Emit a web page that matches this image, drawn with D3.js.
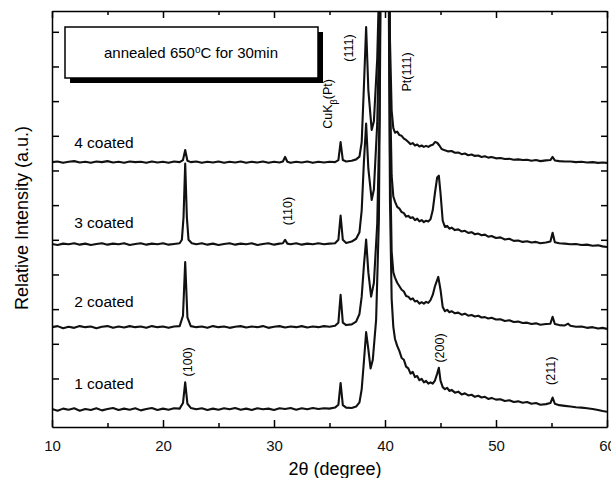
<!DOCTYPE html>
<html lang="en">
  <head>
    <meta charset="utf-8">
    <title>XRD annealed 650C</title>
    <script src="https://cdnjs.cloudflare.com/ajax/libs/d3/7.8.5/d3.min.js"></script>
    <style>
      body { margin: 0; background: #fff; }
      * { font-family: "Liberation Sans", Arial, sans-serif; }
      .axis path, .axis line { stroke: #000; stroke-width: 1.5px; }
      .axis text { font-size: 15px; fill: #111; }
      .trace { fill: none; stroke: #111; stroke-width: 2.1px; stroke-linejoin: round; }
    </style>
  </head>
  <body>
    <div id="vis"></div>
<script>
    // data: [2theta, relative intensity above each trace's own baseline]
    var coat1 = [[10,0.03],[10.5,-0.02],[11,0.04],[11.5,0.01],[12,0.05],[12.5,-0.02],[13,0.03],[13.5,0.0],[14,0.05],[14.5,-0.01],[15,0.03],[15.5,0.06],[16,0.0],[16.5,0.04],[17,0.01],[17.5,0.05],[18,-0.01],[18.5,0.03],[19,0.06],[19.5,0.0],[20,0.04],[20.5,0.01],[21,0.05],[21.5,0.04],[21.8,0.2],[22,0.8],[22.2,0.18],[22.5,0.06],[23,0.02],[23.5,0.05],[24,0.0],[24.5,0.04],[25,0.01],[25.5,0.05],[26,0.02],[26.5,0.06],[27,0.01],[27.5,0.04],[28,0.0],[28.5,0.05],[29,0.02],[29.5,0.04],[30,0.0],[30.5,0.05],[31,0.03],[31.5,0.06],[32,0.01],[32.5,0.05],[33,0.02],[33.5,0.06],[34,0.03],[34.5,0.05],[35,0.04],[35.5,0.07],[35.8,0.15],[36,0.78],[36.2,0.14],[36.5,0.07],[37,0.06],[37.4,0.1],[37.7,0.22],[37.9,0.6],[38.1,1.4],[38.3,2.25],[38.5,1.75],[38.7,1.2],[38.9,1.45],[39.2,2.6],[39.45,5.5],[39.65,14],[40.3,14],[40.45,6],[40.6,3.2],[40.75,2.4],[40.9,2.05],[41.1,1.85],[41.3,1.7],[41.5,1.5],[41.7,1.45],[41.9,1.25],[42.1,1.2],[42.3,1.05],[42.5,1.1],[42.7,0.95],[42.9,0.98],[43.1,0.86],[43.3,0.9],[43.5,0.8],[43.7,0.84],[43.9,0.76],[44.1,0.8],[44.3,0.76],[44.5,0.85],[44.7,1.05],[44.85,1.22],[45,0.85],[45.2,0.66],[45.4,0.6],[45.6,0.64],[45.8,0.55],[46,0.58],[46.3,0.5],[46.6,0.53],[46.9,0.45],[47.2,0.48],[47.5,0.42],[47.8,0.44],[48.1,0.38],[48.4,0.41],[48.7,0.36],[49,0.38],[49.3,0.32],[49.6,0.35],[50,0.3],[50.4,0.31],[50.8,0.26],[51.2,0.28],[51.6,0.23],[52,0.25],[52.4,0.21],[52.8,0.23],[53.2,0.18],[53.6,0.2],[54,0.15],[54.5,0.17],[54.9,0.2],[55.1,0.36],[55.3,0.18],[55.7,0.14],[56.2,0.12],[56.7,0.1],[57.2,0.08],[57.7,0.07],[58.2,0.05],[58.7,0.03],[59.2,0.0],[59.6,-0.03],[60,-0.05]];

    var coat2 = [[10,0.02],[10.5,0.05],[11,-0.01],[11.5,0.03],[12,0.0],[12.5,0.05],[13,0.02],[13.5,0.04],[14,-0.01],[14.5,0.03],[15,0.05],[15.5,0.0],[16,0.04],[16.5,0.01],[17,0.05],[17.5,0.02],[18,0.04],[18.5,0.0],[19,0.05],[19.5,0.02],[20,0.04],[20.5,0.0],[21,0.04],[21.5,0.05],[21.8,0.35],[22,1.9],[22.2,0.3],[22.5,0.05],[23,0.02],[23.5,0.04],[24,0.0],[24.5,0.05],[25,0.02],[25.5,0.04],[26,0.0],[26.5,0.03],[27,0.05],[27.5,0.01],[28,0.04],[28.5,0.02],[29,0.05],[29.5,0.0],[30,0.03],[30.5,0.05],[31,0.01],[31.5,0.04],[32,0.02],[32.5,0.05],[33,0.01],[33.5,0.04],[34,0.02],[34.5,0.05],[35,0.03],[35.5,0.06],[35.8,0.15],[36,0.95],[36.2,0.15],[36.5,0.08],[37,0.1],[37.4,0.18],[37.7,0.4],[37.9,0.9],[38.1,1.8],[38.3,2.55],[38.5,1.6],[38.75,0.9],[39,1.3],[39.3,3],[39.5,6],[39.65,14],[40.3,14],[40.45,5],[40.6,2.2],[40.75,1.6],[40.9,1.45],[41.1,1.3],[41.3,1.2],[41.5,1.1],[41.7,1.05],[41.9,0.92],[42.1,0.9],[42.3,0.82],[42.5,0.85],[42.7,0.76],[42.9,0.78],[43.1,0.7],[43.3,0.74],[43.5,0.7],[43.7,0.75],[43.9,0.72],[44.1,0.8],[44.3,0.95],[44.5,1.2],[44.8,1.47],[45,1.1],[45.2,0.6],[45.4,0.48],[45.6,0.52],[45.8,0.45],[46,0.48],[46.3,0.42],[46.6,0.44],[46.9,0.38],[47.2,0.41],[47.5,0.35],[47.8,0.37],[48.1,0.33],[48.4,0.35],[48.7,0.3],[49,0.31],[49.3,0.27],[49.6,0.29],[50,0.24],[50.4,0.25],[50.8,0.2],[51.2,0.22],[51.6,0.17],[52,0.18],[52.4,0.14],[52.8,0.15],[53.2,0.11],[53.6,0.13],[54,0.09],[54.5,0.11],[54.9,0.12],[55.1,0.32],[55.3,0.11],[55.7,0.08],[56.2,0.07],[56.5,0.12],[56.7,0.06],[57.2,0.03],[57.7,0.04],[58.2,0.0],[58.7,0.02],[59.2,-0.02],[59.6,0.0],[60,-0.03]];

    var coat3 = [[10,0.03],[10.5,0.0],[11,0.04],[11.5,0.02],[12,0.05],[12.5,0.01],[13,0.04],[13.5,0.0],[14,0.03],[14.5,0.05],[15,0.01],[15.5,0.04],[16,0.02],[16.5,0.05],[17,0.0],[17.5,0.03],[18,0.05],[18.5,0.01],[19,0.04],[19.5,0.02],[20,0.05],[20.5,0.01],[21,0.03],[21.5,0.05],[21.7,0.15],[21.85,0.8],[22,2.35],[22.15,0.8],[22.3,0.15],[22.6,0.05],[23,0.02],[23.5,0.05],[24,0.01],[24.5,0.04],[25,0.0],[25.5,0.03],[26,0.05],[26.5,0.01],[27,0.04],[27.5,0.02],[28,0.05],[28.5,0.0],[29,0.03],[29.5,0.05],[30,0.01],[30.5,0.04],[30.8,0.05],[31,0.15],[31.2,0.04],[31.5,0.02],[32,0.05],[32.5,0.01],[33,0.04],[33.5,0.02],[34,0.05],[34.5,0.02],[35,0.04],[35.5,0.05],[35.8,0.15],[36,0.85],[36.2,0.15],[36.5,0.06],[37,0.1],[37.4,0.18],[37.7,0.37],[37.9,1.0],[38.1,2.4],[38.3,3.5],[38.5,2.2],[38.8,1.3],[39,1.6],[39.3,3.5],[39.5,6.5],[39.65,12],[40.3,12],[40.45,4.5],[40.6,2.0],[40.75,1.4],[40.9,1.25],[41.1,1.1],[41.3,1.05],[41.5,0.95],[41.7,0.92],[41.9,0.82],[42.1,0.84],[42.3,0.78],[42.5,0.8],[42.7,0.72],[42.9,0.76],[43.1,0.68],[43.3,0.72],[43.5,0.66],[43.7,0.7],[43.9,0.68],[44.1,0.74],[44.3,1.0],[44.5,1.5],[44.7,1.95],[44.85,2.0],[45,1.5],[45.2,0.7],[45.4,0.52],[45.6,0.55],[45.8,0.47],[46,0.5],[46.3,0.43],[46.6,0.45],[46.9,0.39],[47.2,0.41],[47.5,0.35],[47.8,0.37],[48.1,0.31],[48.4,0.33],[48.7,0.28],[49,0.3],[49.3,0.24],[49.6,0.26],[50,0.2],[50.4,0.22],[50.8,0.16],[51.2,0.18],[51.6,0.12],[52,0.13],[52.4,0.09],[52.8,0.11],[53.2,0.07],[53.6,0.09],[54,0.05],[54.5,0.07],[54.9,0.1],[55.1,0.35],[55.3,0.08],[55.7,0.05],[56.2,0.04],[56.7,0.02],[57.2,0.03],[57.7,0.0],[58.2,0.01],[58.7,-0.02],[59.2,-0.01],[59.6,-0.04],[60,-0.06]];

    var coat4 = [[10,0.02],[10.5,0.04],[11,0.0],[11.5,0.03],[12,0.05],[12.5,0.01],[13,0.03],[13.5,0.0],[14,0.04],[14.5,0.02],[15,0.05],[15.5,0.01],[16,0.03],[16.5,0.0],[17,0.04],[17.5,0.02],[18,0.03],[18.5,0.0],[19,0.04],[19.5,0.01],[20,0.03],[20.5,0.0],[21,0.04],[21.5,0.02],[21.8,0.08],[22,0.37],[22.2,0.06],[22.5,0.02],[23,0.04],[23.5,0.0],[24,0.03],[24.5,0.01],[25,0.04],[25.5,0.0],[26,0.03],[26.5,0.01],[27,0.04],[27.5,0.0],[28,0.03],[28.5,0.01],[29,0.04],[29.5,0.0],[30,0.03],[30.5,0.01],[30.8,0.04],[31,0.17],[31.2,0.03],[31.5,0.0],[32,0.03],[32.5,0.01],[33,0.04],[33.5,0.0],[34,0.03],[34.5,0.01],[35,0.03],[35.5,0.02],[35.8,0.08],[36,0.6],[36.2,0.08],[36.5,0.04],[37,0.06],[37.4,0.1],[37.7,0.18],[37.9,0.6],[38.1,2.2],[38.3,3.92],[38.5,2.1],[38.8,0.95],[39,1.2],[39.3,3],[39.5,5.5],[39.65,10],[40.3,10],[40.45,3.5],[40.6,1.5],[40.75,1.0],[40.9,0.87],[41.1,0.9],[41.3,0.8],[41.5,0.78],[41.7,0.7],[41.9,0.66],[42.1,0.6],[42.3,0.54],[42.5,0.57],[42.7,0.5],[42.9,0.53],[43.1,0.47],[43.3,0.5],[43.5,0.46],[43.7,0.49],[43.9,0.46],[44.1,0.5],[44.3,0.52],[44.5,0.6],[44.7,0.58],[44.9,0.5],[45.1,0.4],[45.4,0.36],[45.7,0.33],[46,0.34],[46.3,0.29],[46.6,0.3],[46.9,0.25],[47.2,0.27],[47.5,0.22],[47.8,0.24],[48.1,0.2],[48.4,0.21],[48.7,0.17],[49,0.19],[49.3,0.15],[49.6,0.17],[50,0.13],[50.4,0.14],[50.8,0.11],[51.2,0.12],[51.6,0.09],[52,0.1],[52.4,0.08],[52.8,0.09],[53.2,0.06],[53.6,0.08],[54,0.05],[54.5,0.07],[54.9,0.08],[55.1,0.17],[55.3,0.07],[55.7,0.05],[56.2,0.04],[56.7,0.04],[57.2,0.02],[57.7,0.03],[58.2,0.01],[58.7,0.02],[59.2,0.0],[59.6,0.01],[60,0.0]];

    var traces = [coat1, coat2, coat3, coat4];
    var offsets = [-0.91, 1.46, 3.85, 6.22];
    var traceNames = ['1 coated', '2 coated', '3 coated', '4 coated'];
    var nameY = [-0.3, 2.06, 4.34, 6.65];
    var nameX = 12.0;

    // peak annotations (text, 2theta, y centre)
    var peakText = ['(100)', '(110)', 'CuK', '(111)', 'Pt(111)', '(200)', '(211)'];
    var peakX = [22.25, 31.26, 34.86, 36.76, 41.98, 44.95, 54.95];
    var peakY = [0.48, 4.83, 7.92, 9.53, 8.84, 0.88, 0.22];

    var xTicks = [10, 20, 30, 40, 50, 60];
    var xMinor = [15, 25, 35, 45, 55];
    var yTicks = [0, 1, 2, 3, 4, 5, 6, 7, 8, 9, 10];

    var width = 611;
    var height = 478;
    var margin = { top: 11, bottom: 51, left: 52, right: 4 };

    var svg = d3.select('#vis')
        .append('svg')
        .attr('width', width)
        .attr('height', height)
        .append('g')
        .attr('transform', 'translate(' + margin.left + ',' + margin.top + ')');

    width = width - margin.left - margin.right;
    height = height - margin.top - margin.bottom;

    var x_scale = d3.scaleLinear().domain([10, 60]).range([0, width]);
    var y_scale = d3.scaleLinear().domain([-1.4, 10.6]).range([height, 0]);

    svg.append('clipPath').attr('id', 'clip')
        .append('rect').attr('width', width).attr('height', height);

    var line = d3.line()
        .x(function(d) { return x_scale(d[0]); })
        .y(function(d) { return y_scale(d[1] + d.off); });

    var plot = svg.append('g').attr('clip-path', 'url(#clip)');

    traces.forEach(function(t, i) {
        var pts = t.map(function(d) { var p = [d[0], d[1]]; p.off = offsets[i]; return p; });
        plot.append('path')
            .attr('class', 'trace')
            .attr('d', line(pts));
    });

    // axes, ticks inward
    svg.append('g').attr('class', 'axis')
        .attr('transform', 'translate(0,' + height + ')')
        .call(d3.axisBottom(x_scale).tickValues(xTicks).tickSize(-7).tickSizeOuter(0).tickPadding(9));
    svg.append('g').attr('class', 'axis')
        .attr('transform', 'translate(0,' + height + ')')
        .call(d3.axisBottom(x_scale).tickValues(xMinor).tickSize(-4).tickFormat(''))
        .select('.domain').remove();
    svg.append('g').attr('class', 'axis')
        .call(d3.axisTop(x_scale).tickValues(xTicks).tickSize(-7).tickSizeOuter(0).tickFormat(''));
    svg.append('g').attr('class', 'axis')
        .call(d3.axisTop(x_scale).tickValues(xMinor).tickSize(-4).tickFormat(''))
        .select('.domain').remove();
    svg.append('g').attr('class', 'axis')
        .call(d3.axisLeft(y_scale).tickValues(yTicks).tickSize(-7).tickSizeOuter(0).tickFormat(''));
    svg.append('g').attr('class', 'axis')
        .attr('transform', 'translate(' + width + ',0)')
        .call(d3.axisRight(y_scale).tickValues(yTicks).tickSize(-6).tickSizeOuter(0).tickFormat(''));

    svg.selectAll('.axis text').attr('y', 13);

    // axis titles
    svg.append('text')
        .attr('x', x_scale(35.5))
        .attr('y', height + 48)
        .attr('text-anchor', 'middle')
        .style('font-size', '18px')
        .text('2\u03b8 (degree)');

    svg.append('text')
        .attr('transform', 'translate(' + (-30) + ',' + (height / 2 - 1) + ') rotate(-90)')
        .attr('text-anchor', 'middle')
        .attr('dy', '0.35em')
        .style('font-size', '18px')
        .text('Relative Intensity (a.u.)');

    // trace names
    svg.selectAll('.name')
        .data(traceNames)
        .enter()
        .append('text')
        .attr('class', 'name')
        .attr('x', x_scale(nameX))
        .attr('y', function(d, i) { return y_scale(nameY[i]); })
        .style('font-size', '15.5px')
        .text(function(d) { return d; });

    // peak labels, rotated
    peakText.forEach(function(t, i) {
        var lab = svg.append('text')
            .attr('transform', 'translate(' + x_scale(peakX[i]) + ',' + y_scale(peakY[i]) + ') rotate(-90)')
            .attr('text-anchor', 'middle')
            .attr('dy', '0.35em')
            .style('font-size', '12.5px')
            .text(t);
        if (t === 'CuK') {
            lab.append('tspan').attr('baseline-shift', 'sub').style('font-size', '9px').text('\u03b2');
            lab.append('tspan').text('(Pt)');
        }
    });

    // annotation box with shadow
    var box = svg.append('g').attr('transform', 'translate(13,16)');
    box.append('rect').attr('x', 5).attr('y', 5).attr('width', 253).attr('height', 51).attr('fill', '#000');
    box.append('rect').attr('width', 253).attr('height', 51).attr('fill', '#fff').attr('stroke', '#000').attr('stroke-width', 1.5);
    var note = box.append('text').attr('x', 126).attr('y', 26).attr('dy', '0.35em')
        .attr('text-anchor', 'middle').style('font-size', '15px');
    note.append('tspan').text('annealed 650');
    note.append('tspan').attr('baseline-shift', 'super').style('font-size', '10px').text('o');
    note.append('tspan').text('C for 30min');
</script>
  </body>
</html>
